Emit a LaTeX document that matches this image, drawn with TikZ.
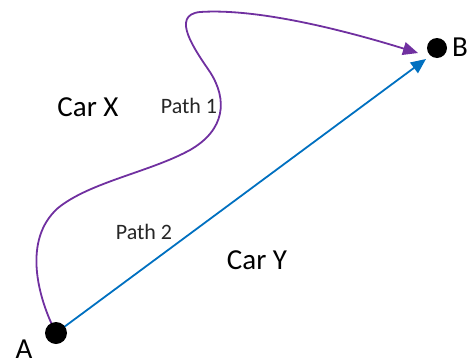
\documentclass[tikz,border=0pt]{standalone}
\usepackage{fontspec}
\setmainfont{Carlito}
\usetikzlibrary{arrows.meta}
\definecolor{pathpurple}{HTML}{7030A0}
\definecolor{pathblue}{HTML}{0070C0}
\tikzset{
  dot/.style={circle,fill=black,inner sep=0pt,minimum size=#1},
  bigtxt/.style={font=\fontsize{29}{32}\selectfont,inner sep=0pt},
  smalltxt/.style={font=\fontsize{22}{26}\selectfont,inner sep=0pt,text=black!85},
  route/.style={line width=1.8pt,-{Triangle[length=15pt,width=13pt]}}
}
\begin{document}
\begin{tikzpicture}[x=1pt,y=-1pt]
\useasboundingbox (0,0) rectangle (469,362);
\coordinate (a) at (56,333);
\coordinate (b) at (437,48);
\coordinate (pend) at (418,53);
\coordinate (bend) at (426,59);
\draw[route,pathpurple] (a) .. controls (38,298) and (22,240) .. (58,208)
  .. controls (90,182) and (150,172) .. (190,150)
  .. controls (225,130) and (228,100) .. (210,72)
  .. controls (195,50) and (170,15) .. (200,12)
  .. controls (260,8) and (350,32) .. (pend);
\draw[route,pathblue] (a) -- (bend);
\node[dot=22pt] (dA) at (a) {};
\node[dot=20pt] (dB) at (b) {};
\node[bigtxt] (lA) at (24,349) {A};
\node[bigtxt] (lB) at (460,47) {B};
\node[bigtxt] (carx) at (88,107) {Car X};
\node[bigtxt] (cary) at (257,260) {Car Y};
\node[smalltxt] (p1) at (189,106) {Path 1};
\node[smalltxt] (p2) at (144,232) {Path 2};
\end{tikzpicture}
\end{document}
